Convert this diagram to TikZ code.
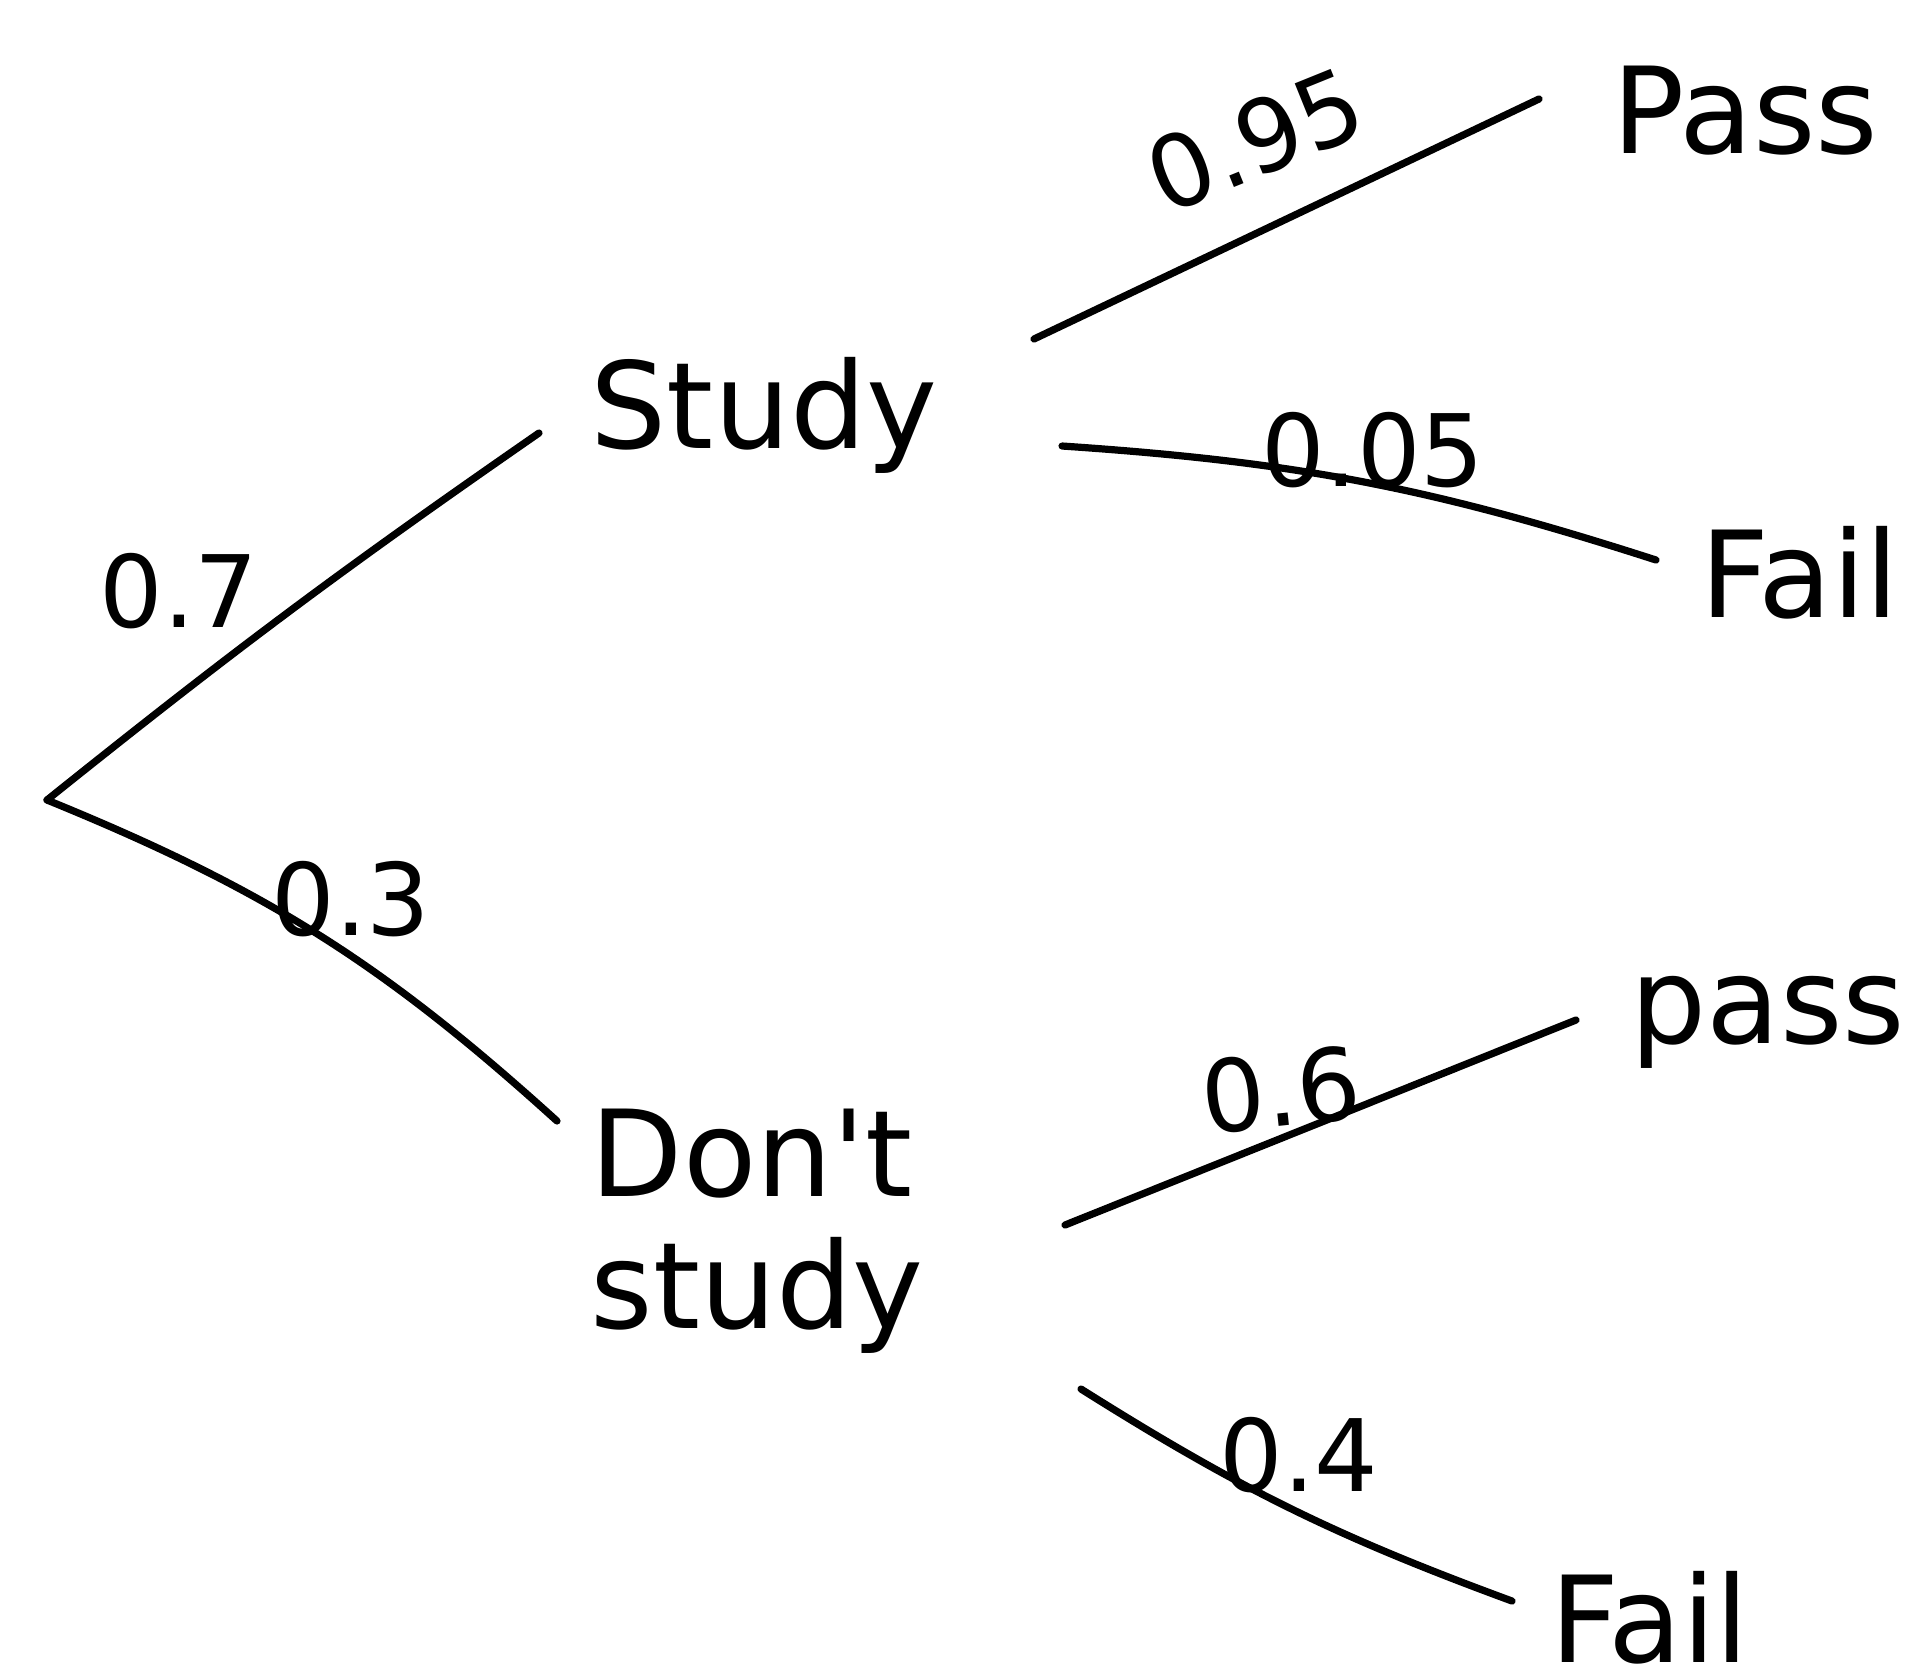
\documentclass[tikz,border=0pt]{standalone}
\usepackage{fontspec}
\setmainfont{DejaVu Sans}[Ligatures=TeXOff]
\begin{document}
\begin{tikzpicture}[x=0.5pt,y=-0.5pt,
  branch/.style={line width=3.6pt,line cap=round},
  outcome/.style={font=\fontsize{60}{66}\selectfont,inner sep=0pt,align=left},
  prob/.style={font=\fontsize{50}{56}\selectfont,inner sep=0pt}]
\useasboundingbox (0,0) rectangle (1931,1672);
% tree vertices
\coordinate (root) at (47,800);
\coordinate (sIn) at (539,433);
\coordinate (dIn) at (557,1121);
\coordinate (sOutA) at (1034,339);
\coordinate (sOutB) at (1062,446);
\coordinate (dOutA) at (1065,1225);
\coordinate (dOutB) at (1081,1389);
\coordinate (pA) at (1539,99);
\coordinate (fA) at (1656,560);
\coordinate (pB) at (1576,1020);
\coordinate (fB) at (1512,1601);
% labels at vertices
\node[outcome] (study) at (764,415) {Study};
\node[outcome] (dont) at (757,1231) {Don't\\study};
\node[outcome,anchor=west] (passA) at (1612,111) {Pass};
\node[outcome,anchor=west] (failA) at (1700,573) {Fail};
\node[outcome,anchor=west] (passB) at (1630,1022) {pass};
\node[outcome,anchor=west] (failB) at (1550,1618) {Fail};
% branches
\draw[branch] (root) to[bend left=2] (sIn);
\draw[branch] (root) to[bend left=10] (dIn);
\draw[branch] (sOutA) -- (pA);
\draw[branch] (sOutB) to[bend left=7] (fA);
\draw[branch] (dOutA) -- (pB);
\draw[branch] (dOutB) to[bend right=6] (fB);
% probabilities
\node[prob] (p07) at (179,591) {0.7};
\node[prob] (p03) at (351,899) {0.3};
\node[prob,rotate=22] (p095) at (1255,140) {0.95};
\node[prob] (p005) at (1373,450) {0.05};
\node[prob,rotate=6] (p06) at (1281,1090) {0.6};
\node[prob] (p04) at (1299,1455) {0.4};
\end{tikzpicture}
\end{document}
